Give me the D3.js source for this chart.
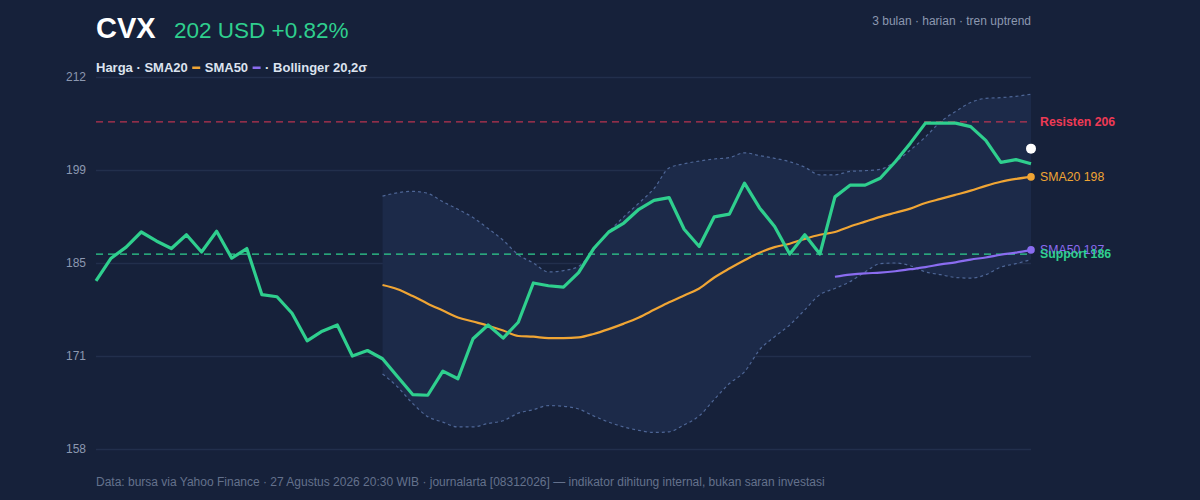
<!doctype html>
<html lang="id">
<head>
  <meta charset="utf-8">
  <title>CVX - Harga & Indikator</title>
  <script src="https://d3js.org/d3.v7.min.js"></script>
  <style>
    html, body { margin: 0; padding: 0; background: #16213a; }
    svg text { font-family: "Liberation Sans", Arial, sans-serif; }
  </style>
</head>
<body>
  <div id="chart"></div>
  <script type="text/javascript">
	// harga penutupan harian, 63 hari bursa
	var price = [182.4, 185.7, 187.3, 189.5, 188.2, 187.1, 189.1, 186.6, 189.6, 185.7,
				 187.1, 180.4, 180.1, 177.7, 173.7, 175.1, 176.0, 171.5, 172.3, 171.1,
				 168.5, 165.9, 165.8, 169.3, 168.2, 174.0, 176.0, 174.1, 176.4, 182.1,
				 181.7, 181.5, 183.6, 187.1, 189.5, 190.8, 192.8, 194.1, 194.5, 189.9,
				 187.4, 191.7, 192.1, 196.6, 193.0, 190.3, 186.3, 189.1, 186.3, 194.6,
				 196.3, 196.3, 197.3, 199.7, 202.4, 205.3, 205.3, 205.3, 204.8, 202.8,
				 199.6, 200.0, 199.4];

	// SMA20 dan Bollinger mulai dari hari ke-20 (indeks 19)
	var sma20Start = 19;
	var sma20 = [181.8, 181.2, 180.2, 179.1, 178.1, 177.1, 176.5, 175.9, 175.2, 174.4,
				 174.3, 174.1, 174.1, 174.2, 174.7, 175.4, 176.2, 177.1, 178.2, 179.3,
				 180.3, 181.3, 182.9, 184.2, 185.4, 186.5, 187.3, 187.8, 188.5, 189.1,
				 189.5, 190.3, 191.0, 191.7, 192.3, 192.9, 193.7, 194.3, 194.9, 195.5,
				 196.2, 196.8, 197.2, 197.5];
	var bbUpper = [194.7, 195.2, 195.4, 195.1, 193.9, 192.8, 191.6, 190.0, 188.3, 186.2,
				   185.0, 183.7, 183.9, 184.5, 186.9, 189.5, 191.7, 193.7, 195.8, 198.8,
				   199.4, 199.8, 200.1, 200.3, 201.0, 200.6, 200.2, 199.7, 198.9, 197.8,
				   197.8, 198.3, 198.4, 198.6, 199.7, 201.4, 203.3, 205.5, 207.0, 208.3,
				   208.9, 209.0, 209.2, 209.5];
	var bbLower = [168.9, 167.0, 164.6, 162.7, 161.9, 161.2, 161.2, 161.7, 162.1, 163.2,
				   163.7, 164.3, 164.2, 163.8, 162.8, 161.9, 161.2, 160.7, 160.4, 160.5,
				   161.5, 162.8, 165.2, 167.5, 169.2, 172.4, 174.3, 176.0, 178.2, 180.4,
				   181.3, 182.3, 183.7, 184.9, 185.0, 184.6, 183.7, 183.3, 182.9, 182.8,
				   183.3, 184.4, 184.9, 185.5];

	// SMA50 mulai dari hari ke-50 (indeks 49)
	var sma50Start = 49;
	var sma50 = [183.0, 183.3, 183.5, 183.6, 183.8, 184.1, 184.4, 184.8, 185.1, 185.5,
				 185.8, 186.2, 186.5, 186.9];

	var support = 186.3, resistance = 205.5;
	var lastPrice = 201.6, changePct = 0.82;

	var yDomain = [158, 212];
	var yTickLabels = ["158", "171", "185", "199", "212"];

	var width = 1200, height = 500;
	// catatan: jangan pakai nama "top" (bentrok dengan window.top)
	var plotLeft = 96, plotRight = 1031, plotTop = 77, plotBottom = 449;

	var colors = {
		bg: "#16213a", grid: "#222f4c", band: "#1c2a49", bandLine: "#4e6696",
		price: "#2fcf8e", sma20: "#f0a534", sma50: "#8a6cf0", resist: "#ee3a55",
		muted: "#8c98b0", foot: "#64718c", legend: "#dce3ef"
	};

	var x = d3.scaleLinear().domain([0, price.length - 1]).range([plotLeft, plotRight]);
	var y = d3.scaleLinear().domain(yDomain).range([plotBottom, plotTop]);

	var svg = d3.select('#chart')
				.append('svg')
				.attr('width', width)
				.attr('height', height);

	svg.append('rect').attr('width', width).attr('height', height).attr('fill', colors.bg);

	// judul
	svg.append('text').attr('x', 96).attr('y', 38)
		.text('CVX')
		.style('font-size', '29px').style('font-weight', 'bold').style('fill', '#ffffff');
	svg.append('text').attr('x', 174).attr('y', 38)
		.text(d3.format('.0f')(lastPrice) + ' USD +' + d3.format('.2f')(changePct) + '%')
		.style('font-size', '22.5px').style('fill', colors.price);
	svg.append('text').attr('x', plotRight).attr('y', 25).attr('text-anchor', 'end')
		.text('3 bulan · harian · tren uptrend')
		.style('font-size', '12px').style('fill', colors.muted);

	// legenda: teks + garis warna kecil, diukur satu per satu
	var legendItems = [
		{t: 'Harga · SMA20'}, {c: colors.sma20}, {t: 'SMA50'}, {c: colors.sma50},
		{t: '· Bollinger 20,2σ'}
	];
	var lx = 96;
	legendItems.forEach(function(d) {
		if (d.t) {
			var t = svg.append('text').attr('x', lx).attr('y', 72)
				.text(d.t)
				.style('font-size', '13px').style('font-weight', 'bold')
				.style('fill', colors.legend);
			lx += t.node().getComputedTextLength() + 4.5;
		} else {
			svg.append('rect').attr('x', lx).attr('y', 66.5)
				.attr('width', 8).attr('height', 2.5).attr('fill', d.c);
			lx += 8 + 4.5;
		}
	});

	// grid + label sumbu y, 5 garis sama jarak
	var yTicks = d3.range(yTickLabels.length).map(function(i) {
		return yDomain[0] + i * (yDomain[1] - yDomain[0]) / (yTickLabels.length - 1);
	});
	var yAxis = svg.append('g')
		.attr('transform', 'translate(' + plotLeft + ',0)')
		.call(d3.axisLeft(y)
			.tickValues(yTicks)
			.tickSize(-(plotRight - plotLeft))
			.tickPadding(10)
			.tickFormat(function(d, i) { return yTickLabels[i]; }));
	yAxis.select('.domain').remove();
	yAxis.selectAll('line').attr('stroke', colors.grid).attr('stroke-width', 1.5);
	yAxis.selectAll('text').style('font-size', '12px').style('fill', colors.muted)
		.style('font-family', '"Liberation Sans", Arial, sans-serif');

	// pita Bollinger
	var band = bbUpper.map(function(d, i) {
		return {i: i + sma20Start, hi: d, lo: bbLower[i]};
	});
	svg.append('path')
		.datum(band)
		.attr('fill', colors.band)
		.attr('d', d3.area()
			.curve(d3.curveMonotoneX)
			.x(function(d) { return x(d.i); })
			.y0(function(d) { return y(d.lo); })
			.y1(function(d) { return y(d.hi); }));

	var smooth = function(start) {
		return d3.line()
			.curve(d3.curveMonotoneX)
			.x(function(d, i) { return x(i + start); })
			.y(function(d) { return y(d); });
	};

	[bbUpper, bbLower].forEach(function(arr) {
		svg.append('path').datum(arr)
			.attr('fill', 'none')
			.attr('stroke', colors.bandLine)
			.attr('stroke-width', 1.2)
			.attr('stroke-dasharray', '3,3')
			.attr('d', smooth(sma20Start));
	});

	// support & resisten
	svg.append('line')
		.attr('x1', plotLeft).attr('x2', plotRight)
		.attr('y1', y(resistance)).attr('y2', y(resistance))
		.attr('stroke', colors.resist).attr('stroke-opacity', 0.75)
		.attr('stroke-width', 1.3).attr('stroke-dasharray', '7,5');
	svg.append('line')
		.attr('x1', plotLeft).attr('x2', plotRight)
		.attr('y1', y(support)).attr('y2', y(support))
		.attr('stroke', colors.price)
		.attr('stroke-width', 1.3).attr('stroke-dasharray', '7,5');

	// SMA50, SMA20, harga
	svg.append('path').datum(sma50)
		.attr('fill', 'none').attr('stroke', colors.sma50).attr('stroke-width', 2.2)
		.attr('d', smooth(sma50Start));
	svg.append('path').datum(sma20)
		.attr('fill', 'none').attr('stroke', colors.sma20).attr('stroke-width', 2.2)
		.attr('d', smooth(sma20Start));
	svg.append('path').datum(price)
		.attr('fill', 'none').attr('stroke', colors.price).attr('stroke-width', 3.2)
		.attr('stroke-linejoin', 'round')
		.attr('d', d3.line()
			.x(function(d, i) { return x(i); })
			.y(function(d) { return y(d); }));

	// titik ujung
	var lastIdx = price.length - 1;
	svg.append('circle').attr('cx', x(lastIdx)).attr('cy', y(sma20[sma20.length - 1]))
		.attr('r', 3.8).attr('fill', colors.sma20);
	svg.append('circle').attr('cx', x(lastIdx)).attr('cy', y(sma50[sma50.length - 1]))
		.attr('r', 3.8).attr('fill', colors.sma50);
	svg.append('circle').attr('cx', x(lastIdx)).attr('cy', y(lastPrice))
		.attr('r', 5).attr('fill', '#ffffff');

	// label kanan
	var fmt = d3.format('.0f');
	var labels = [
		{v: resistance, t: 'Resisten ' + fmt(resistance), c: colors.resist, b: true},
		{v: sma20[sma20.length - 1], t: 'SMA20 ' + fmt(sma20[sma20.length - 1]), c: colors.sma20, b: false},
		{v: sma50[sma50.length - 1], t: 'SMA50 ' + fmt(sma50[sma50.length - 1]), c: colors.sma50, b: false},
		{v: support, t: 'Support ' + fmt(support), c: colors.price, b: true}
	];
	svg.selectAll('.endlabel')
		.data(labels)
		.enter()
		.append('text')
		.attr('class', 'endlabel')
		.attr('x', plotRight + 9)
		.attr('y', function(d) { return y(d.v); })
		.attr('dy', '0.35em')
		.text(function(d) { return d.t; })
		.style('font-size', '12.3px')
		.style('font-weight', function(d) { return d.b ? 'bold' : 'normal'; })
		.style('fill', function(d) { return d.c; });

	// catatan kaki
	svg.append('text').attr('x', 96).attr('y', 486)
		.text('Data: bursa via Yahoo Finance · 27 Agustus 2026 20:30 WIB · journalarta [08312026] — indikator dihitung internal, bukan saran investasi')
		.style('font-size', '12px').style('fill', colors.foot);
  </script>
</body>
</html>
